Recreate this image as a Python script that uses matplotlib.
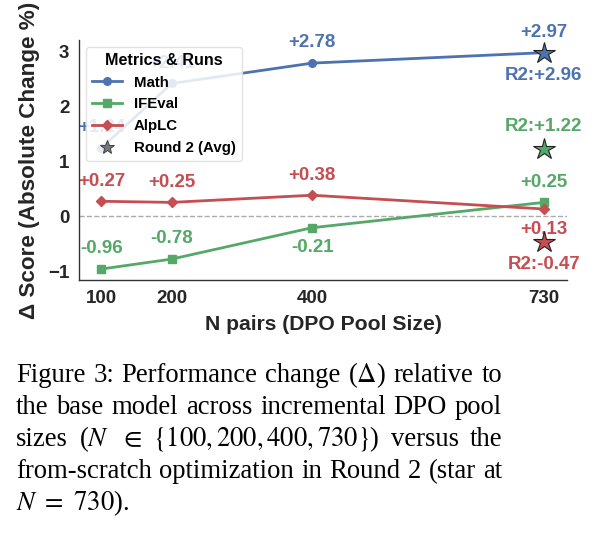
import matplotlib
matplotlib.use("Agg")
import matplotlib.pyplot as plt
from matplotlib.lines import Line2D

# data
n_pairs = [100, 200, 400, 730]
math_delta = [1.24, 2.41, 2.78, 2.97]
ifeval_delta = [-0.96, -0.78, -0.21, 0.25]
alplc_delta = [0.27, 0.25, 0.38, 0.13]
r2_n = 730
r2_math = 2.96
r2_ifeval = 1.22
r2_alplc = -0.47

BLUE = '#4C72B0'
GREEN = '#55A868'
RED = '#C44E52'
TXT = '#262626'

plt.rcParams['font.family'] = ['Liberation Sans', 'DejaVu Sans']
plt.rcParams['mathtext.fontset'] = 'stix'

fig = plt.figure(figsize=(6.08, 5.34), dpi=100)
ax = fig.add_axes([79 / 608, 1 - 280 / 534, (567 - 79) / 608, (280 - 40) / 534])

series = [
    ('Math', math_delta, BLUE, 'o', [1, 1, 1, 1]),
    ('IFEval', ifeval_delta, GREEN, 's', [1, 1, -1, 1]),
    ('AlpLC', alplc_delta, RED, 'D', [1, 1, 1, -1]),
]
for name, vals, col, mk, sides in series:
    ax.plot(n_pairs, vals, color=col, marker=mk, lw=2.0, ms=5.5, zorder=3)
    for x, v, s in zip(n_pairs, vals, sides):
        ax.annotate(f'{v:+.2f}', (x, v), xytext=(0, 14.5 * s), textcoords='offset points',
                    ha='center', va='center', color=col, fontsize=13.5,
                    fontweight='bold', zorder=2)

# round 2 stars at N=730
stars = [(r2_math, BLUE, -1), (r2_ifeval, GREEN, 1), (r2_alplc, RED, -1)]
for v, col, s in stars:
    ax.plot([r2_n], [v], marker='*', ms=16, color=col, mec='#222222', mew=0.8,
            ls='none', zorder=4)
    ax.annotate(f'R2:{v:+.2f}', (r2_n, v), xytext=(0, 16 * s), textcoords='offset points',
                ha='center', va='center', color=col, fontsize=13.5,
                fontweight='bold', zorder=2)

ax.axhline(0, color='#aaaaaa', ls='--', lw=1.0, zorder=1)

ax.set_xlim(68, 763)
ax.set_ylim(-1.16, 3.2)
ax.set_xticks(n_pairs)
ax.set_xticklabels([str(n) for n in n_pairs])
ax.set_yticks([-1, 0, 1, 2, 3])
ax.set_yticklabels(['\u22121', '0', '1', '2', '3'])
ax.tick_params(length=0, labelsize=13.5, colors=TXT, pad=7)
for lab in ax.get_xticklabels() + ax.get_yticklabels():
    lab.set_fontweight('bold')
for sp in ['top', 'right']:
    ax.spines[sp].set_visible(False)
for sp in ['left', 'bottom']:
    ax.spines[sp].set_color('#333333')
    ax.spines[sp].set_linewidth(1.0)

ax.set_xlabel('N pairs (DPO Pool Size)', fontsize=15.2, fontweight='bold', color=TXT, labelpad=6)
ax.set_ylabel('\u0394 Score (Absolute Change %)', fontsize=16.2, fontweight='bold', color=TXT, labelpad=6)

handles = [
    Line2D([], [], color=BLUE, marker='o', lw=2.0, ms=5.5, label='Math'),
    Line2D([], [], color=GREEN, marker='s', lw=2.0, ms=5.5, label='IFEval'),
    Line2D([], [], color=RED, marker='D', lw=2.0, ms=5.5, label='AlpLC'),
    Line2D([], [], color='#777777', marker='*', ms=10, mec='#333333', mew=0.6,
           ls='none', label='Round 2 (Avg)'),
]
leg = ax.legend(handles=handles, loc='upper left', title='Metrics & Runs',
                prop={'size': 10.8, 'weight': 'bold'}, framealpha=0.85,
                edgecolor='#dddddd', fancybox=True, labelspacing=0.52,
                borderaxespad=0.45)
leg.get_title().set_fontweight('bold')
leg.get_title().set_fontsize(11.6)
leg.set_zorder(5)

# caption, justified line by line
caption = [
    ['Figure', '3:', 'Performance', 'change', '($\\Delta$)', 'relative', 'to'],
    ['the', 'base', 'model', 'across', 'incremental', 'DPO', 'pool'],
    ['sizes', '($N$', '$\\in$', '$\\{100,200,400,730\\}$)', 'versus', 'the'],
    ['from-scratch', 'optimization', 'in', 'Round', '2', '(star', 'at'],
    ['$N$ $=$ $730$).'],
]
cap_left, cap_right = 16, 502
baselines = [382, 414, 446, 478, 510]
W, H = 608, 534
renderer = fig.canvas.get_renderer()
for li, (words, yb) in enumerate(zip(caption, baselines)):
    texts = [fig.text(0, 1 - yb / H, w, fontsize=19.2, family='Liberation Serif',
                      color='black', ha='left', va='baseline') for w in words]
    widths = [t.get_window_extent(renderer).width for t in texts]
    last = li == len(caption) - 1
    if last or len(words) == 1:
        gap = 6.0
    else:
        gap = (cap_right - cap_left - sum(widths)) / (len(words) - 1)
    x = cap_left
    for t, w in zip(texts, widths):
        t.set_x(x / W)
        x += w + gap

fig.savefig('out.png', dpi=100)
